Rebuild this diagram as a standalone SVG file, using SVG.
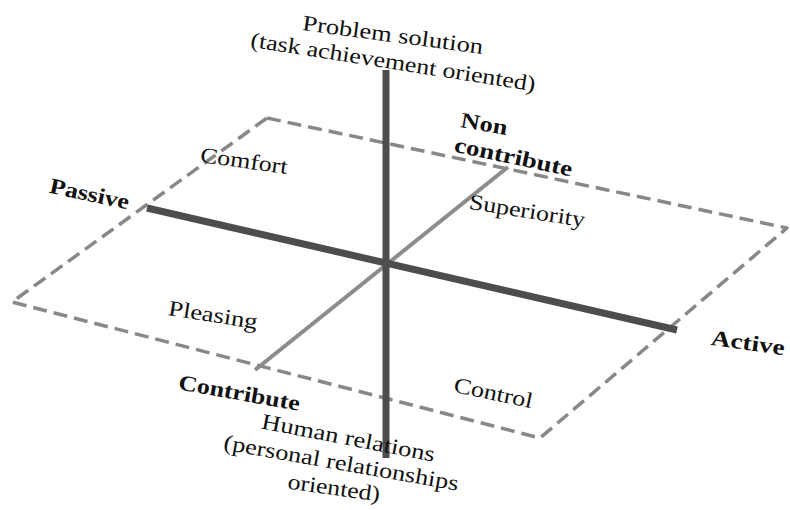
<svg xmlns="http://www.w3.org/2000/svg" width="790" height="510" viewBox="0 0 790 510">
<style>
.t{font-family:"Liberation Serif","Times New Roman",serif;font-size:22px;fill:#111111;text-anchor:middle}
.b{font-weight:bold}
.dash{fill:none;stroke:#888888;stroke-width:3.5;stroke-dasharray:14 7;stroke-linejoin:round}
.axis{stroke:#4d4d4d;stroke-width:7;fill:none}
.axis2{stroke:#8c8c8c;stroke-width:4;fill:none}
</style>
<rect width="790" height="510" fill="#ffffff"/>
<g id="connectors">
<polygon id="plane" class="dash" points="267,118 787,228 540,438 12,302"/>
<line id="contribute-axis" class="axis2" x1="255" y1="370" x2="508" y2="167"/>
<line id="passive-active-axis" class="axis" x1="147" y1="208" x2="677" y2="330"/>
<line id="vertical-axis" class="axis" x1="386" y1="70" x2="386" y2="458"/>
</g>
<g id="top-label">
<text class="t" x="392" y="42" transform="rotate(7.5 392 42)" textLength="182" lengthAdjust="spacingAndGlyphs">Problem solution</text>
<text class="t" x="392" y="69" transform="rotate(8.9 392 69)" textLength="288" lengthAdjust="spacingAndGlyphs">(task achievement oriented)</text>
</g>
<g id="non-contribute">
<text class="t b" x="483" y="131" transform="rotate(10 483 131)" textLength="47" lengthAdjust="spacingAndGlyphs">Non</text>
<text class="t b" x="512" y="164" transform="rotate(12 512 164)" textLength="120" lengthAdjust="spacingAndGlyphs">contribute</text>
</g>
<g id="comfort"><text class="t" x="243" y="168" transform="rotate(8 243 168)" textLength="88" lengthAdjust="spacingAndGlyphs">Comfort</text></g>
<g id="passive"><text class="t b" x="88" y="201" transform="rotate(12 88 201)" textLength="81" lengthAdjust="spacingAndGlyphs">Passive</text></g>
<g id="superiority"><text class="t" x="526" y="218" transform="rotate(9 526 218)" textLength="117" lengthAdjust="spacingAndGlyphs">Superiority</text></g>
<g id="pleasing"><text class="t" x="212" y="322" transform="rotate(9 212 322)" textLength="90" lengthAdjust="spacingAndGlyphs">Pleasing</text></g>
<g id="active"><text class="t b" x="747" y="350" transform="rotate(8 747 350)" textLength="74" lengthAdjust="spacingAndGlyphs">Active</text></g>
<g id="contribute"><text class="t b" x="238" y="400" transform="rotate(10 238 400)" textLength="123" lengthAdjust="spacingAndGlyphs">Contribute</text></g>
<g id="control"><text class="t" x="492" y="400" transform="rotate(12 492 400)" textLength="80" lengthAdjust="spacingAndGlyphs">Control</text></g>
<g id="bottom-label">
<text class="t" x="347" y="445" transform="rotate(11 347 445)" textLength="176" lengthAdjust="spacingAndGlyphs">Human relations</text>
<text class="t" x="340" y="470" transform="rotate(10 340 470)" textLength="238" lengthAdjust="spacingAndGlyphs">(personal relationships</text>
<text class="t" x="333" y="495" transform="rotate(8 333 495)" textLength="93" lengthAdjust="spacingAndGlyphs">oriented)</text>
</g>
</svg>
